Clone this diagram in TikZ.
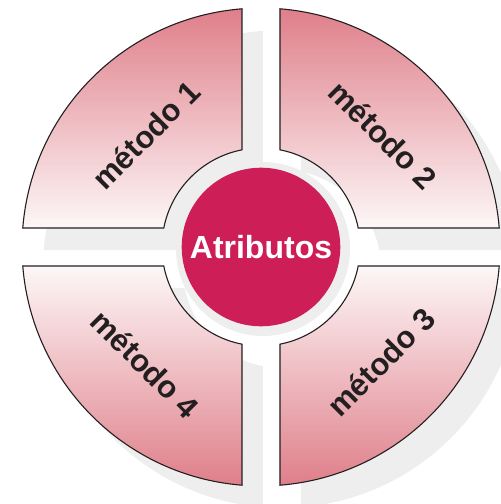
\documentclass[tikz,border=0pt]{standalone}
\usepackage{fontspec}
\setmainfont{Liberation Sans}
\usepackage{tikz}

\definecolor{rosa}{RGB}{223,127,138}
\definecolor{rosaclaro}{RGB}{253,247,247}
\definecolor{carmin}{RGB}{206,30,88}
\definecolor{sombra}{RGB}{238,238,239}
\definecolor{borde}{RGB}{35,31,32}

% quarter ring, top-left one; the others are mirrored
\newcommand{\sectorpath}{(-19,97.2) -- (-19,238.2)
  arc[start angle=94.56,end angle=175.44,radius=239] -- (-97.2,19)
  arc[start angle=168.93,end angle=101.07,radius=99] -- cycle}

\begin{document}
\begin{tikzpicture}[x=1pt,y=1pt,
  segmento/.style={draw=borde,line width=1.1pt},
  metodo/.style={font=\bfseries\fontsize{31}{31}\selectfont,text=borde,inner sep=0pt},
  centro/.style={circle,fill=carmin,minimum size=158.6pt,inner sep=0pt,
    font=\bfseries\fontsize{32}{32}\selectfont,text=white}]
\useasboundingbox (-261,-257) rectangle (240,247);
\clip (-261,-257) rectangle (240,247);

% shadow
\begin{scope}[shift={(21,-22)}]
\foreach \sx in {1,-1}
  \foreach \sy in {1,-1}
    \fill[sombra,xscale=\sx,yscale=\sy] \sectorpath;
\end{scope}
\fill[sombra] (2,-2) circle (87);

% segments
\shade[segmento,top color=rosa,bottom color=rosaclaro] \sectorpath;
\shade[segmento,top color=rosa,bottom color=rosaclaro,xscale=-1] \sectorpath;
\shade[segmento,top color=rosaclaro,bottom color=rosa,yscale=-1] \sectorpath;
\shade[segmento,top color=rosaclaro,bottom color=rosa,xscale=-1,yscale=-1] \sectorpath;

\node[metodo,rotate=45] (m1) at (-115,112) {método 1};
\node[metodo,rotate=-45] (m2) at (122,112) {método 2};
\node[metodo,rotate=45] (m3) at (120,-115) {método 3};
\node[metodo,rotate=-45] (m4) at (-116,-117) {método 4};

\node[centro] (atributos) at (0,0) {Atributos};
\end{tikzpicture}
\end{document}
